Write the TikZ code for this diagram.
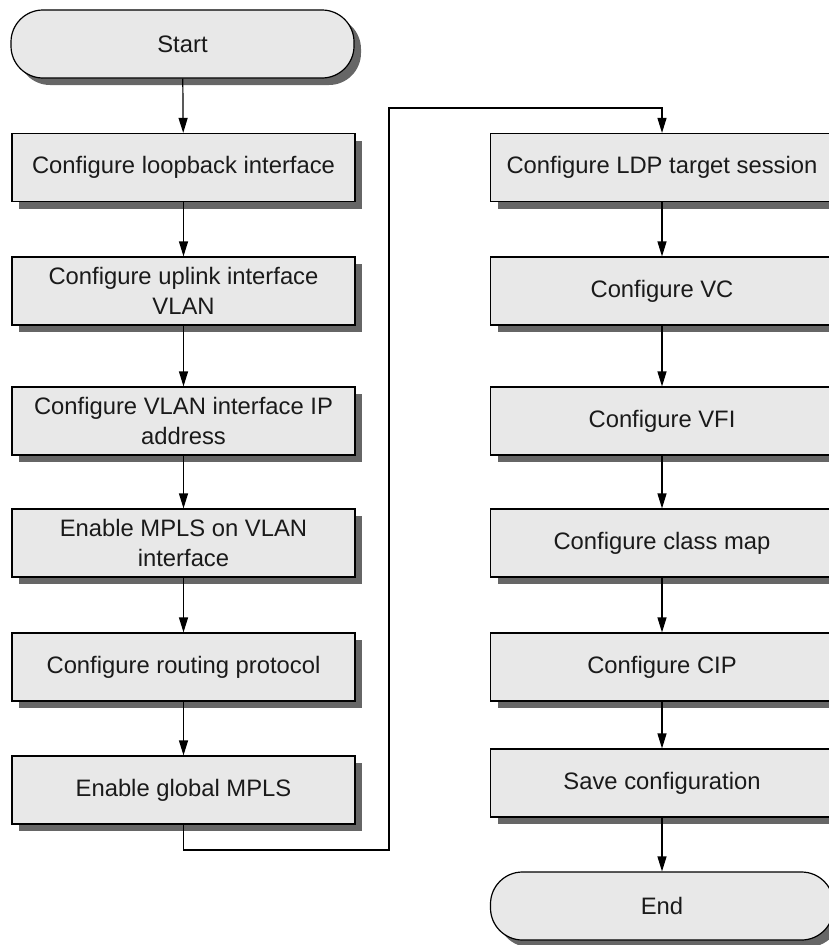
\documentclass[tikz,border=0pt]{standalone}
\usepackage{fontspec}
\setmainfont{Liberation Sans}
\usetikzlibrary{arrows.meta,shadows}
\definecolor{boxfill}{HTML}{E8E8E8}
\definecolor{shade}{HTML}{666666}
\definecolor{inkgray}{HTML}{1A1A1A}
\tikzset{
  stepbox/.style={draw=black, line width=1.2pt, fill=boxfill,
    minimum width=343pt, minimum height=68pt, align=center, inner sep=0pt,
    text=inkgray, font=\fontsize{23.8}{29.5}\selectfont,
    drop shadow={shadow xshift=7pt, shadow yshift=-7pt, fill=shade, opacity=1}},
  termbox/.style={stepbox, rounded corners=32pt},
  flow/.style={line width=1.2pt, -{Triangle[length=15pt,width=9pt]}},
  link/.style={line width=1.2pt}
}
\begin{document}
\begin{tikzpicture}[x=1pt,y=-1pt]
\useasboundingbox (0,0) rectangle (829,945);
\clip (0,0) rectangle (829,945);
% left column
\node[termbox] (start) at (182.5,44) {Start};
\node[stepbox] (loop) at (183.5,167.5) {Configure loopback interface};
\node[stepbox] (uplink) at (183.5,291) {Configure uplink interface\\VLAN};
\node[stepbox] (vlanip) at (183.5,421) {Configure VLAN interface IP\\address};
\node[stepbox] (mplsvlan) at (183.5,543) {Enable MPLS on VLAN\\interface};
\node[stepbox] (routing) at (183.5,667) {Configure routing protocol};
\node[stepbox] (gmpls) at (183.5,790) {Enable global MPLS};
% right column
\node[stepbox] (ldp) at (662,167.5) {Configure LDP target session};
\node[stepbox] (vc) at (662,291) {Configure VC};
\node[stepbox] (vfi) at (662,421) {Configure VFI};
\node[stepbox] (cmap) at (662,543) {Configure class map};
\node[stepbox] (cip) at (662,667) {Configure CIP};
\node[stepbox] (save) at (662,783) {Save configuration};
\node[termbox] (end) at (662,906) {End};
% connectors
\draw[flow] (start) -- (loop);
\draw[flow] (loop) -- (uplink);
\draw[flow] (uplink) -- (vlanip);
\draw[flow] (vlanip) -- (mplsvlan);
\draw[flow] (mplsvlan) -- (routing);
\draw[flow] (routing) -- (gmpls);
\coordinate (lowturn) at (389,850);
\coordinate (highturn) at (389,108);
\draw[flow] (gmpls.south) |- (lowturn) -- (highturn) -| (ldp.north);
\draw[flow] (ldp) -- (vc);
\draw[flow] (vc) -- (vfi);
\draw[flow] (vfi) -- (cmap);
\draw[flow] (cmap) -- (cip);
\draw[flow] (cip) -- (save);
\draw[flow] (save) -- (end);
\end{tikzpicture}
\end{document}
